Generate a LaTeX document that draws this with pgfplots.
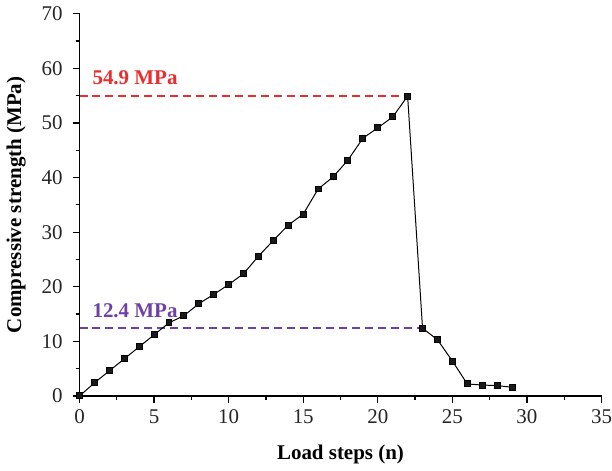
\documentclass[border=0pt]{standalone}
\usepackage{pgfplots}
\pgfplotsset{compat=1.18}
\usepackage{fontspec}
\setmainfont{Liberation Serif}
\definecolor{peakred}{RGB}{235,45,45}
\definecolor{resid}{RGB}{112,64,164}
\begin{document}
\begin{tikzpicture}
\begin{axis}[
    scale only axis,
    width=261.5pt, height=191.5pt,
    xmin=0, xmax=35, ymin=0, ymax=70,
    axis lines=left,
    axis line style={-, black, line width=0.6pt},
    tick align=outside,
    tick style={black, line width=0.6pt},
    major tick length=3.5pt, minor tick length=2pt,
    xtick={0,5,...,35}, ytick={0,10,...,70},
    minor x tick num=1, minor y tick num=1,
    ticklabel style={font=\fontsize{10.5}{11}\selectfont, text=black!85},
    yticklabel style={xshift=-1.5pt},
    xticklabel style={inner xsep=0pt},
    /pgf/number format/assume math mode=true,
    xlabel={\textbf{Load steps (n)}},
    ylabel={\textbf{Compressive strength (MPa)}},
    label style={font=\fontsize{10.5}{11}\selectfont},
    xlabel style={yshift=-3.5pt},
    ylabel style={yshift=1pt},
    clip=false,
]
\addplot[draw=peakred, line width=1pt, dash pattern=on 4pt off 2.5pt, forget plot] coordinates {(0,54.9) (22,54.9)};
\addplot[draw=resid, line width=1pt, dash pattern=on 4pt off 2.5pt, forget plot] coordinates {(0,12.4) (23,12.4)};
\addplot[black, line width=0.5pt, mark=square*, mark size=1.5pt,
    mark options={fill=black!90}] coordinates {
(0,0) (1,2.4) (2,4.6) (3,6.8) (4,9.0) (5,11.2) (6,13.4) (7,14.7)
(8,16.9) (9,18.6) (10,20.4) (11,22.4) (12,25.6) (13,28.5) (14,31.3)
(15,33.3) (16,37.9) (17,40.1) (18,43.2) (19,47.2) (20,49.1) (21,51.1)
(22,54.9) (23,12.4) (24,10.3) (25,6.4) (26,2.2) (27,2.0) (28,1.9) (29,1.6)
};
\node[anchor=south west, text=peakred, font=\fontsize{10.5}{11}\selectfont\bfseries] at (axis cs:0.4,55.6) {54.9 MPa};
\node[anchor=south west, text=resid, font=\fontsize{10.5}{11}\selectfont\bfseries] at (axis cs:0.4,13.1) {12.4 MPa};
\end{axis}
\end{tikzpicture}
\end{document}
